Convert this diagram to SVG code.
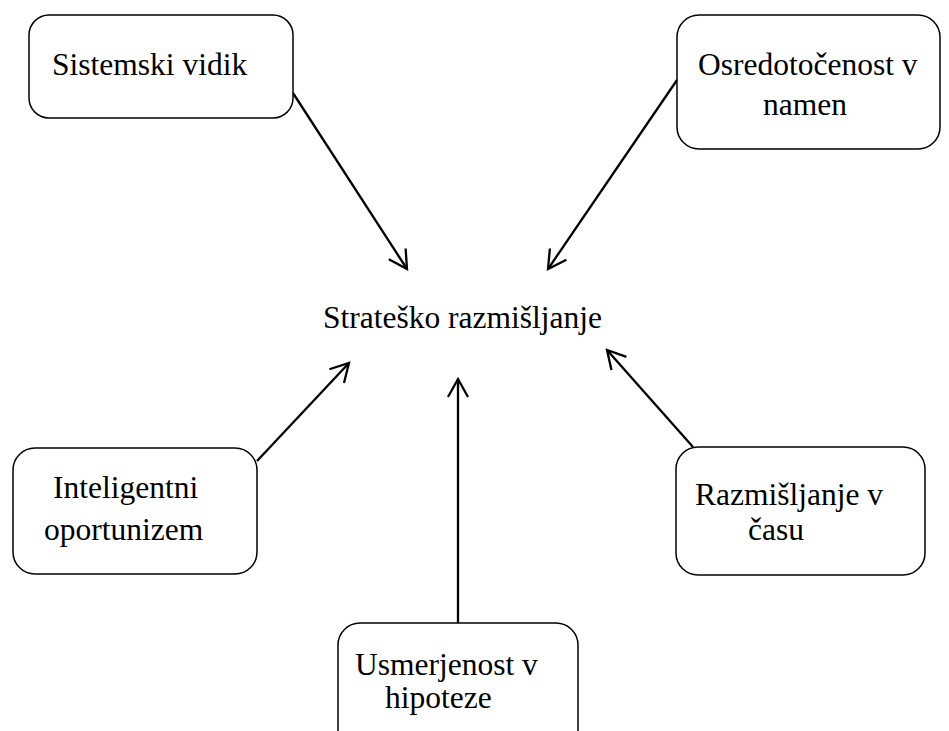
<svg xmlns="http://www.w3.org/2000/svg" width="949" height="731" viewBox="0 0 949 731">
<defs>
<style>
.box{fill:#fff;stroke:#000;stroke-width:1.5}
.t{font-family:"Liberation Serif","Times New Roman",serif;font-size:31.5px;fill:#000}
.c{stroke:#000;stroke-width:2.3;fill:none}
</style>
<marker id="ah" markerUnits="userSpaceOnUse" markerWidth="24" markerHeight="24" viewBox="-20 -12 24 24" refX="0" refY="0" orient="auto">
<path d="M -18,-10 L 0,0 L -18,10" fill="none" stroke="#000" stroke-width="2.3"/>
</marker>
</defs>
<rect width="949" height="731" fill="#fff"/>
<g id="connectors">
<line class="c" x1="293" y1="93" x2="407" y2="269" marker-end="url(#ah)"/>
<line class="c" x1="677" y1="80" x2="548" y2="269" marker-end="url(#ah)"/>
<line class="c" x1="257" y1="461" x2="349" y2="363" marker-end="url(#ah)"/>
<line class="c" x1="458" y1="623" x2="458" y2="379" marker-end="url(#ah)"/>
<line class="c" x1="693" y1="447" x2="607" y2="350" marker-end="url(#ah)"/>
</g>
<g id="center">
<text class="t" x="323" y="328">Strateško razmišljanje</text>
</g>
<g id="n-sistemski">
<rect class="box" x="29" y="15" width="264" height="103" rx="20"/>
<text class="t" x="52" y="75">Sistemski vidik</text>
</g>
<g id="n-osredotocenost">
<rect class="box" x="677" y="15" width="263" height="134" rx="22"/>
<text class="t" x="698" y="75">Osredotočenost v</text>
<text class="t" x="763" y="115">namen</text>
</g>
<g id="n-inteligentni">
<rect class="box" x="13" y="448" width="244" height="126" rx="22"/>
<text class="t" x="53" y="498">Inteligentni</text>
<text class="t" x="44" y="540">oportunizem</text>
</g>
<g id="n-razmisljanje">
<rect class="box" x="676" y="447" width="249" height="128" rx="22"/>
<text class="t" x="695" y="505">Razmišljanje v</text>
<text class="t" x="748" y="540">času</text>
</g>
<g id="n-usmerjenost">
<rect class="box" x="338" y="623" width="240" height="130" rx="22"/>
<text class="t" x="355" y="675">Usmerjenost v</text>
<text class="t" x="385" y="708">hipoteze</text>
</g>
</svg>
